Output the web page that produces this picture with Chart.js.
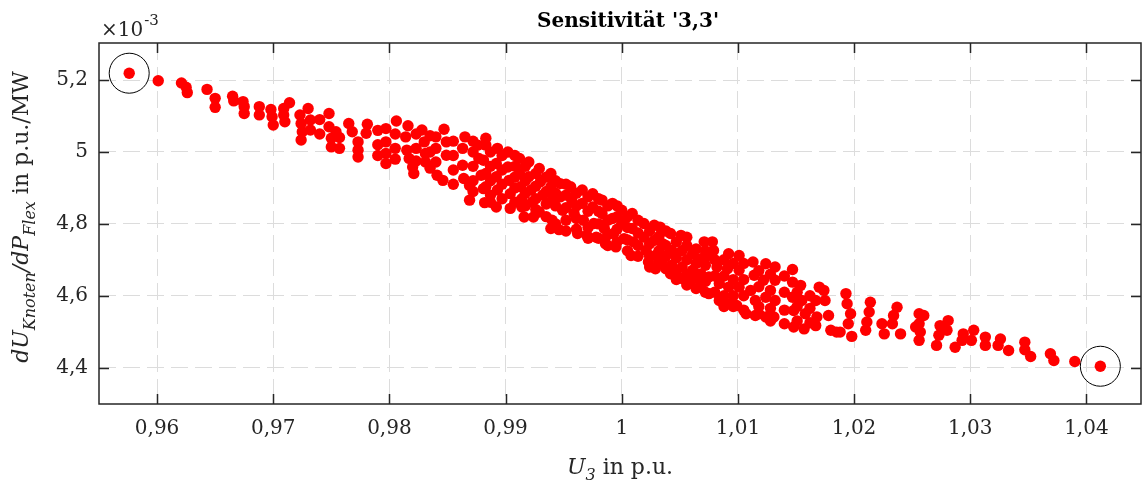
<!DOCTYPE html>
<html>
<head>
<meta charset="utf-8">
<script src="https://cdn.jsdelivr.net/npm/chart.js@4.4.0/dist/chart.umd.min.js"></script>
<style>
  html, body { margin: 0; padding: 0; background: #fff; overflow: hidden; }
  #wrap { width: 1142px; height: 487px; position: relative; }
  canvas { display: block; }
</style>
</head>
<body>
<div id="wrap"><canvas id="chart"></canvas></div>
<script>
// tick positions
const xTicks = [0.96, 0.97, 0.98, 0.99, 1.00, 1.01, 1.02, 1.03, 1.04];
const yTicks = [4.4, 4.6, 4.8, 5.0, 5.2];

// U_3 in p.u. (individually readable points)
const uVals = [
  0.9576, 0.9601, 0.9621, 0.9625, 0.9626, 0.9643, 0.9650, 0.9650, 0.9665, 0.9666,
  0.9674, 0.9675, 0.9675, 0.9688, 0.9688, 0.9698, 0.9699, 0.9700, 0.9709, 0.9714,
  0.9709, 0.9710, 0.9723, 0.9724, 0.9725, 0.9724, 0.9730, 0.9732, 0.9732, 0.9748,
  0.9748, 0.9750, 0.9750, 0.9754, 0.9765, 0.9768, 0.9773, 0.9773, 0.9773, 0.9781,
  0.9780, 0.9797, 0.9797, 0.9797, 0.9797, 0.9806, 0.9816, 0.9814, 0.9815, 0.9817,
  0.9820, 0.9821, 0.9828, 0.9830, 0.9831, 0.9831, 0.9840, 0.9840, 0.9840, 0.9841,
  0.9846, 0.9847, 0.9849, 0.9849, 0.9865, 0.9863, 0.9863, 0.9864, 0.9869, 0.9869,
  0.9876, 0.9877, 0.9879, 0.9881, 0.9882, 0.9883, 0.9883, 0.9881, 0.9883, 0.9883,
  0.9892, 0.9904, 0.9914, 0.9916, 0.9924, 0.9929, 0.9893, 0.9892, 0.9892, 0.9893,
  0.9902, 0.9902, 0.9903, 0.9904, 0.9912, 0.9912, 0.9913, 0.9914, 0.9920, 0.9920,
  0.9922, 0.9923, 0.9929, 0.9930, 0.9932, 0.9939, 0.9939, 0.9940, 0.9939, 0.9946,
  0.9940, 0.9947, 0.9947, 0.9949, 0.9956, 0.9957, 0.9959, 0.9962, 0.9966, 0.9966,
  0.9967, 0.9970, 0.9975, 0.9975, 0.9976, 0.9978, 0.9983, 0.9983, 0.9985, 0.9986,
  0.9992, 0.9992, 0.9993, 0.9995, 1.0000, 1.0000, 1.0002, 1.0008, 1.0009, 1.0009,
  1.0010, 1.0019, 1.0019, 1.0021, 1.0023, 1.0028, 1.0028, 1.0029, 1.0029, 1.0033,
  1.0035, 1.0035, 1.0042, 1.0042, 1.0043, 1.0043, 1.0051, 1.0052, 1.0052, 1.0052,
  1.0059, 1.0056, 1.0061, 1.0061, 1.0068, 1.0068, 1.0068, 1.0071, 1.0078, 1.0074,
  1.0075, 1.0075, 1.0079, 1.0082, 1.0084, 1.0084, 1.0092, 1.0091, 1.0091, 1.0092,
  1.0101, 1.0101, 1.0101, 1.0099, 1.0107, 1.0113, 1.0114, 1.0111, 1.0115, 1.0115,
  1.0124, 1.0122, 1.0124, 1.0124, 1.0132, 1.0132, 1.0132, 1.0131, 1.0140, 1.0147,
  1.0147, 1.0147, 1.0148, 1.0148, 1.0154, 1.0155, 1.0158, 1.0157, 1.0170, 1.0167,
  1.0168, 1.0167, 1.0174, 1.0175, 1.0178, 1.0180, 1.0185, 1.0193, 1.0194, 1.0197,
  1.0195, 1.0188, 1.0198, 1.0214, 1.0213, 1.0211, 1.0210, 1.0237, 1.0234, 1.0233,
  1.0226, 1.0224, 1.0240, 1.0256, 1.0260, 1.0256, 1.0257, 1.0256, 1.0253, 1.0274,
  1.0281, 1.0273, 1.0271, 1.0280, 1.0287, 1.0294, 1.0293, 1.0303, 1.0301, 1.0313,
  1.0313, 1.0326, 1.0324, 1.0333, 1.0347, 1.0347, 1.0352, 1.0369, 1.0372, 1.0390,
  1.0412
];

// dU_Knoten/dP_Flex in 1e-3 p.u./MW
const sensVals = [
  5.219, 5.198, 5.192, 5.180, 5.165, 5.174, 5.149, 5.124, 5.155, 5.142,
  5.140, 5.126, 5.107, 5.126, 5.103, 5.118, 5.098, 5.075, 5.121, 5.137,
  5.103, 5.084, 5.103, 5.079, 5.056, 5.033, 5.121, 5.089, 5.061, 5.107,
  5.070, 5.038, 5.014, 5.056, 5.079, 5.056, 5.028, 5.005, 4.986, 5.077,
  5.052, 5.065, 5.028, 4.996, 4.968, 5.086, 5.073, 5.042, 5.005, 4.982,
  4.958, 4.940, 5.061, 5.028, 4.996, 4.972, 5.042, 5.010, 4.972, 4.935,
  4.921, 5.063, 5.028, 4.991, 5.042, 5.010, 4.963, 4.926, 4.907, 4.866,
  5.019, 4.982, 4.935, 4.898, 4.859, 5.038, 5.019, 4.977, 4.940, 4.903,
  4.847, 4.843, 4.847, 4.819, 4.819, 4.833, 5.010, 4.968, 4.931, 4.894,
  5.000, 4.958, 4.921, 4.884, 4.982, 4.940, 4.903, 4.870, 4.972, 4.931,
  4.894, 4.861, 4.954, 4.917, 4.880, 4.940, 4.903, 4.866, 4.787, 4.784,
  4.810, 4.912, 4.875, 4.838, 4.903, 4.866, 4.829, 4.773, 4.894, 4.857,
  4.810, 4.768, 4.884, 4.847, 4.801, 4.763, 4.866, 4.829, 4.787, 4.745,
  4.857, 4.815, 4.773, 4.736, 4.838, 4.801, 4.759, 4.712, 4.829, 4.787,
  4.750, 4.801, 4.763, 4.726, 4.694, 4.796, 4.754, 4.712, 4.675, 4.791,
  4.745, 4.699, 4.661, 4.773, 4.726, 4.685, 4.768, 4.726, 4.680, 4.648,
  4.638, 4.763, 4.717, 4.671, 4.703, 4.661, 4.629, 4.750, 4.750, 4.712,
  4.606, 4.652, 4.726, 4.680, 4.587, 4.634, 4.717, 4.675, 4.578, 4.624,
  4.712, 4.671, 4.624, 4.573, 4.550, 4.694, 4.657, 4.615, 4.545, 4.587,
  4.689, 4.643, 4.596, 4.541, 4.680, 4.643, 4.587, 4.541, 4.522, 4.673,
  4.638, 4.596, 4.559, 4.513, 4.629, 4.587, 4.550, 4.508, 4.624, 4.587,
  4.541, 4.517, 4.615, 4.587, 4.545, 4.504, 4.499, 4.606, 4.578, 4.550,
  4.522, 4.499, 4.487, 4.582, 4.555, 4.527, 4.504, 4.568, 4.545, 4.522,
  4.494, 4.522, 4.494, 4.550, 4.545, 4.522, 4.499, 4.476, 4.513, 4.517,
  4.531, 4.490, 4.462, 4.504, 4.457, 4.494, 4.476, 4.504, 4.476, 4.485,
  4.462, 4.480, 4.462, 4.448, 4.471, 4.450, 4.431, 4.439, 4.420, 4.417,
  4.404
];

// extra points estimated inside the dense, overlapping part of the band
const uBand = [
  0.9740, 0.9740,
  0.9757, 0.9757,
  0.9790, 0.9790, 0.9790,
  0.9805, 0.9805, 0.9805,
  0.9823, 0.9823, 0.9823,
  0.9835, 0.9835, 0.9835,
  0.9855, 0.9855, 0.9855, 0.9855,
  0.9872, 0.9872, 0.9872, 0.9872, 0.9872,
  0.9887, 0.9887, 0.9887, 0.9887, 0.9887,
  0.9897, 0.9897, 0.9897, 0.9897,
  0.9908, 0.9908, 0.9908, 0.9908, 0.9908,
  0.9917, 0.9917, 0.9917, 0.9917,
  0.9926, 0.9926, 0.9926, 0.9926,
  0.9935, 0.9935, 0.9935, 0.9935,
  0.9943, 0.9943, 0.9943, 0.9943,
  0.9952, 0.9952, 0.9952, 0.9952, 0.9952,
  0.9961, 0.9961, 0.9961, 0.9961,
  0.9971, 0.9971, 0.9971, 0.9971,
  0.9980, 0.9980, 0.9980, 0.9980,
  0.9988, 0.9988, 0.9988, 0.9988,
  0.9996, 0.9996, 0.9996, 0.9996,
  1.0005, 1.0005, 1.0005, 1.0005,
  1.0014, 1.0014, 1.0014, 1.0014,
  1.0024, 1.0024, 1.0024, 1.0024,
  1.0032, 1.0032, 1.0032,
  1.0038, 1.0038, 1.0038, 1.0038,
  1.0047, 1.0047, 1.0047, 1.0047,
  1.0056, 1.0056, 1.0056, 1.0056,
  1.0064, 1.0064, 1.0064, 1.0064,
  1.0072, 1.0072, 1.0072, 1.0072,
  1.0080, 1.0080, 1.0080,
  1.0088, 1.0088, 1.0088, 1.0088,
  1.0096, 1.0096, 1.0096, 1.0096,
  1.0105, 1.0105, 1.0105, 1.0105,
  1.0118, 1.0118, 1.0118, 1.0118,
  1.0128, 1.0128, 1.0128, 1.0128,
  1.0140, 1.0140, 1.0140,
  1.0151, 1.0151, 1.0151,
  1.0162, 1.0162, 1.0162
];
const sensBand = [
  5.090, 5.050,
  5.040, 5.010,
  5.060, 5.020, 4.990,
  5.050, 5.010, 4.980,
  5.050, 5.010, 4.975,
  5.045, 5.000, 4.955,
  5.030, 4.990, 4.950, 4.910,
  5.030, 5.000, 4.960, 4.920, 4.890,
  5.000, 4.960, 4.920, 4.880, 4.860,
  4.990, 4.950, 4.910, 4.870,
  4.990, 4.960, 4.930, 4.900, 4.860,
  4.960, 4.920, 4.885, 4.850,
  4.940, 4.905, 4.870, 4.840,
  4.930, 4.890, 4.855, 4.820,
  4.920, 4.885, 4.850, 4.800,
  4.910, 4.880, 4.845, 4.810, 4.780,
  4.885, 4.850, 4.815, 4.785,
  4.875, 4.835, 4.790, 4.760,
  4.870, 4.835, 4.800, 4.760,
  4.850, 4.810, 4.770, 4.740,
  4.850, 4.820, 4.785, 4.750,
  4.820, 4.790, 4.755, 4.725,
  4.810, 4.775, 4.740, 4.710,
  4.780, 4.745, 4.710, 4.680,
  4.765, 4.725, 4.690,
  4.780, 4.740, 4.710, 4.675,
  4.750, 4.705, 4.670, 4.645,
  4.740, 4.700, 4.660, 4.630,
  4.730, 4.690, 4.650, 4.620,
  4.725, 4.685, 4.640, 4.610,
  4.700, 4.655, 4.610,
  4.700, 4.655, 4.600, 4.570,
  4.690, 4.645, 4.600, 4.570,
  4.690, 4.645, 4.600, 4.560,
  4.670, 4.625, 4.570, 4.550,
  4.660, 4.615, 4.565, 4.530,
  4.655, 4.610, 4.560,
  4.610, 4.570, 4.530,
  4.600, 4.565, 4.525
];

const FONT = 'DejaVu Serif';
const AX = '#262626';

function fmtComma(v) {
  return String(parseFloat(v.toFixed(3))).replace('.', ',');
}

// points to be circled: lowest and highest voltage
let iMin = 0, iMax = 0;
uVals.forEach((u, i) => {
  if (u < uVals[iMin]) iMin = i;
  if (u > uVals[iMax]) iMax = i;
});

const points = uVals.map((u, i) => ({ x: u, y: sensVals[i] }))
  .concat(uBand.map((u, i) => ({ x: u, y: sensBand[i] })));
const marked = [iMin, iMax].map(i => ({ x: uVals[i], y: sensVals[i] }));

// draws a run of text pieces (italic / sub), centred on cx
function drawPieces(ctx, pieces, cx, baseY) {
  let total = 0;
  pieces.forEach(p => { ctx.font = p.f; total += ctx.measureText(p.t).width; });
  let x = cx - total / 2;
  pieces.forEach(p => {
    ctx.font = p.f;
    ctx.fillText(p.t, x, baseY + (p.dy || 0));
    x += ctx.measureText(p.t).width;
  });
}

const boxPlugin = {
  id: 'matlabBox',
  afterDraw(chart) {
    const { ctx, chartArea: a, scales } = chart;
    ctx.save();
    ctx.strokeStyle = AX;
    ctx.lineWidth = 1.5;
    ctx.setLineDash([]);
    ctx.strokeRect(a.left, a.top, a.right - a.left, a.bottom - a.top);

    // inward ticks on all sides
    const tl = 10;
    ctx.beginPath();
    xTicks.forEach(v => {
      const px = Math.round(scales.x.getPixelForValue(v)) + 0.5;
      ctx.moveTo(px, a.bottom); ctx.lineTo(px, a.bottom - tl);
      ctx.moveTo(px, a.top); ctx.lineTo(px, a.top + tl);
    });
    yTicks.forEach(v => {
      const py = Math.round(scales.y.getPixelForValue(v)) + 0.5;
      ctx.moveTo(a.left, py); ctx.lineTo(a.left + tl, py);
      ctx.moveTo(a.right, py); ctx.lineTo(a.right - tl, py);
    });
    ctx.stroke();

    ctx.fillStyle = '#000';
    ctx.textAlign = 'center';
    ctx.textBaseline = 'alphabetic';
    ctx.font = 'bold 20px ' + FONT;
    ctx.fillText("Sensitivität '3,3'", 628, 27);

    // exponent
    ctx.fillStyle = AX;
    ctx.textAlign = 'left';
    ctx.font = '20px ' + FONT;
    ctx.fillText('\u00d710', 101, 36);
    const w = ctx.measureText('\u00d710').width;
    ctx.font = '15px ' + FONT;
    ctx.fillText('-3', 101 + w + 1, 25);

    // x label
    drawPieces(ctx, [
      { t: 'U', f: 'italic 22px ' + FONT },
      { t: '3', f: 'italic 16px ' + FONT, dy: 6 },
      { t: ' in p.u.', f: '22px ' + FONT }
    ], 620, 474);

    // y label
    ctx.save();
    ctx.translate(28, 217);
    ctx.rotate(-Math.PI / 2);
    drawPieces(ctx, [
      { t: 'dU', f: 'italic 22px ' + FONT },
      { t: 'Knoten', f: 'italic 16px ' + FONT, dy: 7 },
      { t: '/dP', f: 'italic 22px ' + FONT },
      { t: 'Flex', f: 'italic 16px ' + FONT, dy: 7 },
      { t: ' in p.u./MW', f: '22px ' + FONT }
    ], 0, 0);
    ctx.restore();
    ctx.restore();
  }
};

new Chart(document.getElementById('chart'), {
  type: 'scatter',
  data: {
    datasets: [
      {
        data: points,
        backgroundColor: '#ff0000',
        borderWidth: 0,
        pointRadius: 5.7,
        pointHoverRadius: 5.7
      },
      {
        data: marked,
        backgroundColor: 'rgba(0,0,0,0)',
        borderColor: '#000',
        borderWidth: 1,
        pointRadius: 20,
        pointHoverRadius: 20,
        clip: false
      }
    ]
  },
  options: {
    responsive: true,
    maintainAspectRatio: false,
    animation: false,
    layout: { autoPadding: false, padding: { top: 43, right: 1, left: 0, bottom: 0 } },
    plugins: { legend: { display: false }, tooltip: { enabled: false } },
    scales: {
      x: {
        type: 'linear',
        min: 0.955,
        max: 1.0447,
        afterBuildTicks: s => { s.ticks = xTicks.map(v => ({ value: v })); },
        afterFit: s => { s.height = 83; s.paddingLeft = 0; s.paddingRight = 0; },
        grid: { color: '#dcdcdc', lineWidth: 1, drawTicks: false },
        border: { display: false, dash: [17, 7] },
        ticks: {
          padding: 13,
          color: AX,
          autoSkip: false,
          maxRotation: 0,
          font: { family: FONT, size: 20 },
          callback: v => fmtComma(v)
        }
      },
      y: {
        type: 'linear',
        min: 4.299,
        max: 5.303,
        afterBuildTicks: s => { s.ticks = yTicks.map(v => ({ value: v })); },
        afterFit: s => { s.width = 99; s.paddingTop = 0; s.paddingBottom = 0; },
        grid: { color: '#dcdcdc', lineWidth: 1, drawTicks: false },
        border: { display: false, dash: [17, 7] },
        ticks: {
          padding: 11,
          color: AX,
          font: { family: FONT, size: 20 },
          callback: v => fmtComma(v)
        }
      }
    }
  },
  plugins: [boxPlugin]
});
</script>
</body>
</html>
